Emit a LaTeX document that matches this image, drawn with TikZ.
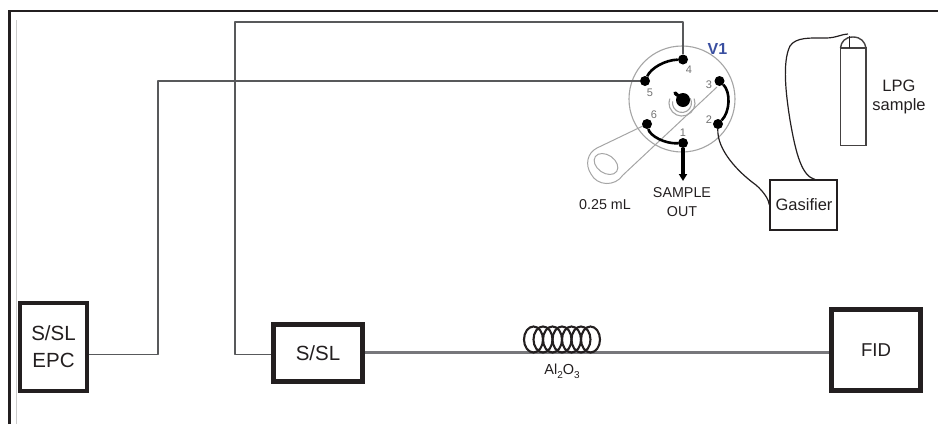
\documentclass[tikz,border=0pt]{standalone}
\usepackage{fontspec}
\setmainfont{Liberation Sans}
\usetikzlibrary{arrows.meta}
\definecolor{ink}{HTML}{231F20}
\definecolor{pipe}{HTML}{58595B}
\definecolor{col}{HTML}{77777B}
\definecolor{valveg}{HTML}{A5A5A5}
\definecolor{vblue}{HTML}{3A4FA0}
\newcommand{\lowdig}[1]{\raisebox{-4pt}{\fontsize{10}{10}\selectfont #1}}
\tikzset{
 heavybox/.style={draw=ink,line width=5pt,minimum width=#1,inner sep=0pt,align=center,font=\fontsize{20.5}{27}\selectfont,text=ink},
 epcbox/.style={draw=ink,line width=3.5pt,inner sep=0pt,align=center,font=\fontsize{20.5}{27}\selectfont,text=ink},
 lbl/.style={inner sep=0pt,align=center,text=ink,font=\fontsize{16.5}{19}\selectfont},
 smalllbl/.style={lbl,font=\fontsize{14.3}{19}\selectfont},
 portnum/.style={inner sep=0pt,text=black!55,font=\fontsize{11}{12}\selectfont},
 port/.style={circle,fill=black,inner sep=0pt,minimum size=10pt},
 pipeline/.style={draw=pipe,line width=1.4pt},
 thinline/.style={draw=ink,line width=1.2pt},
 arcline/.style={draw=black,line width=2.6pt},
 loopline/.style={draw=valveg,line width=1pt}
}
\begin{document}
\begin{tikzpicture}[x=1pt,y=-1pt]
\useasboundingbox (0,0) rectangle (938,424);
% frame
\draw[ink,line width=2.6pt] (9.5,424) -- (9.5,11) -- (938,11);
\draw[black!20,line width=.7pt] (16.5,20) -- (16.5,424);
% valve body
\coordinate (vc) at (682,99);
\draw[valveg,line width=1.1pt,fill=white] (vc) circle (53);
% sample loop
\draw[loopline] (647,124) -- (597,148) .. controls (587,153) and (585,165) .. (591,174)
  .. controls (597,186) and (615,187) .. (623,175) -- (717,87);
\draw[loopline,rotate around={-35:(606,164)}] (606,164) ellipse (13 and 9);
% ports
\node[port] (p4) at (683,59.5) {};
\node[port] (p5) at (645,81) {};
\node[port] (p6) at (647,124) {};
\node[port] (p1) at (683,143) {};
\node[port] (p2) at (718,124) {};
\node[port] (p3) at (719.5,81) {};
\draw[arcline] (p4) .. controls (665,60) and (651,68) .. (p5);
\draw[arcline] (p6) .. controls (650,136) and (665,144) .. (p1);
\draw[arcline] (p3) .. controls (731,92) and (730,112) .. (p2);
\node[portnum] at (689,70) {4};
\node[portnum] at (650,93) {5};
\node[portnum] at (654,114.5) {6};
\node[portnum] at (683,132.5) {1};
\node[portnum] at (709,119.5) {2};
\node[portnum] at (709,85) {3};
% rotor
\draw[valveg,line width=1.1pt] (694.2,98.6) arc (-20:200:13);
\draw[valveg,line width=1.1pt] (690.2,98.2) arc (-30:190:9.5);
\node[circle,fill=black,inner sep=0pt,minimum size=14pt] (rotor) at (683,100) {};
\draw[black,line width=3.5pt,line cap=round] (675,93) -- (rotor);
% outlet
\coordinate (outlet) at (683,181);
\draw[black,line width=3.2pt,-{Triangle[length=7pt,width=8pt]}] (p1) -- (outlet);
% labels
\node[inner sep=0pt,text=vblue,font=\bfseries\fontsize{16}{16}\selectfont] at (717.5,49) {V1};
\node[smalllbl] at (682,202.5) {SAMPLE\\OUT};
\node[smalllbl] at (605,205) {0.25 mL};
% gasifier and cylinder
\node[draw=ink,line width=1.2pt,minimum width=67pt,minimum height=50pt,inner sep=0pt,lbl] (gas) at (803.5,205) {\hspace*{1pt}Gasifier};
\draw[thinline] (p2) .. controls (717,150) and (738,172) .. (756,185) .. controls (764,192) and (769,200) .. (gas.west);
\node[lbl] (lpg) at (899,96.5) {LPG\\sample};
\draw[draw=ink!85,line width=1.6pt] (840.5,48) -- (840.5,145.5) -- (866,145.5) -- (866,48) -- cycle;
\draw[draw=ink!85,line width=1.4pt] (840.5,48) .. controls (841,42) and (845,37) .. (853,37) .. controls (861,37) and (865,42) .. (866,48);
\draw[thinline] (849.5,48) -- (849.5,36);
\draw[thinline] (815,179.5) .. controls (802,176) and (796,155) .. (790,120) .. controls (786,95) and (782,62) .. (790,46)
  .. controls (796,37) and (810,38) .. (826,38) .. controls (836,38) and (842,34) .. (848,34);
% main boxes
\node[epcbox,minimum width=67pt,minimum height=88pt] (epc) at (53.5,347) {S/SL\\EPC};
\node[heavybox=89pt,minimum height=57pt] (ssl) at (318,353) {S/SL};
\node[heavybox=89pt,minimum height=81pt,font=\fontsize{18.6}{22}\selectfont] (fid) at (876,350) {FID};
% pipes
\draw[pipeline,line join=round] (p4) -- (683,22) -- (235,22) -- (235,354.5) -- (ssl.west |- 0,354.5);
\draw[pipeline,line join=round] (p5) -- (158,81) -- (158,354.5) -- (epc.east |- 0,354.5);
% column
\draw[col,line width=3.4pt] (ssl.east |- 0,352.5) -- (fid.west |- 0,352.5);
% coil
\foreach \cx in {533.5,543,552.5,562,571.5,581,590.5}
  \draw[ink,line width=2.1pt] (\cx,339.5) ellipse (9.5 and 13);
\node[lbl,font=\fontsize{14.5}{16}\selectfont] at (562,371) {Al\lowdig{2}O\lowdig{3}};
\end{tikzpicture}
\end{document}
